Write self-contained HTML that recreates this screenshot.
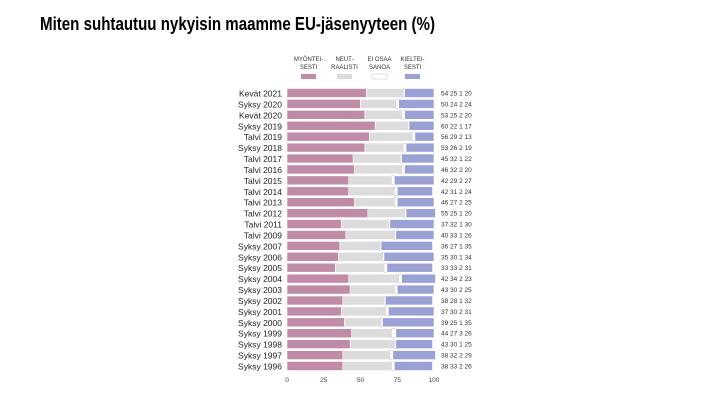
<!DOCTYPE html>
<html><head><meta charset="utf-8"><style>
body{margin:0;background:#fff;}
svg{display:block;font-family:"Liberation Sans",sans-serif;}
</style></head><body>
<svg width="720" height="405" viewBox="0 0 720 405">
<text x="40" y="30" font-size="18" font-weight="bold" textLength="395" lengthAdjust="spacingAndGlyphs" fill="#000">Miten suhtautuu nykyisin maamme EU-jäsenyyteen (%)</text>
<g id="legend"></g>
<g id="bars"></g>
<g id="axis"></g>
</svg>
<script>
const categories=["Kevät 2021","Syksy 2020","Kevät 2020","Syksy 2019","Talvi 2019","Syksy 2018","Talvi 2017","Talvi 2016","Talvi 2015","Talvi 2014","Talvi 2013","Talvi 2012","Talvi 2011","Talvi 2009","Syksy 2007","Syksy 2006","Syksy 2005","Syksy 2004","Syksy 2003","Syksy 2002","Syksy 2001","Syksy 2000","Syksy 1999","Syksy 1998","Syksy 1997","Syksy 1996"];
const myonteisesti=[54,50,53,60,56,53,45,46,42,42,46,55,37,40,36,35,33,42,43,38,37,39,44,43,38,38];
const neutraalisti=[25,24,25,22,29,26,32,32,29,31,27,25,32,33,27,30,33,34,30,28,30,25,27,30,32,33];
const eiOsaa=[1,2,2,1,2,2,1,2,2,2,2,1,1,1,1,1,2,2,2,1,2,1,3,1,2,2];
const kielteisesti=[20,24,20,17,13,19,22,20,27,24,25,20,30,26,35,34,31,23,25,32,31,35,26,25,29,26];
const ticks=[0,25,50,75,100];
const legendLabels=[["MYÖNTEI-","SESTI"],["NEUT-","RAALISTI"],["EI OSAA","SANOA"],["KIELTEI-","SESTI"]];
const colors=["#c08ba6","#dcdcdc","#ffffff","#9aa1d5"];
const NS="http://www.w3.org/2000/svg";
const x0=287,x1=434,yTop=93,pitch=10.92,bh=9;
const xs=v=>x0+(x1-x0)*v/100;
const ys=i=>yTop+i*pitch;
function mk(tag,attrs,parent){const e=document.createElementNS(NS,tag);for(const k in attrs)e.setAttribute(k,attrs[k]);parent.appendChild(e);return e;}
const bars=document.getElementById('bars');
const series=[myonteisesti,neutraalisti,eiOsaa,kielteisesti];
categories.forEach((c,i)=>{
  const yc=ys(i);
  const lab=mk('text',{x:282,y:yc+3.5,'font-size':8.5,'text-anchor':'end',fill:'#222'},bars);
  
  
  lab.textContent=c;
  let acc=0;
  series.forEach((s,k)=>{
    const r=mk('rect',{x:xs(acc),y:yc-bh/2,width:Math.max(0,xs(s[i])-x0),height:bh,fill:colors[k],stroke:k==2?'#ccc':'#fff','stroke-width':0.6},bars);
    
    
    acc+=s[i];
  });
  const v=mk('text',{x:441,y:yc+2.5,'font-size':6.5,fill:'#333'},bars);
  
  
  v.textContent=myonteisesti[i]+" "+neutraalisti[i]+" "+eiOsaa[i]+" "+kielteisesti[i];
});
const axis=document.getElementById('axis');
ticks.forEach(t=>{
  const tx=mk('text',{x:xs(t),y:382,'font-size':6.5,'text-anchor':'middle',fill:'#444'},axis);
  
  
  tx.textContent=t;
});
const leg=document.getElementById('legend');
const legX=[308.5,344.5,379.5,412.5];
legendLabels.forEach((l,k)=>{
  const g=mk('g',{},leg);
  
  
  l.forEach((line,j)=>{const t=mk('text',{x:legX[k],y:61+j*8,'font-size':6,'text-anchor':'middle',fill:'#333'},g);t.textContent=line;});
  mk('rect',{x:legX[k]-7.5,y:74,width:15,height:5,fill:colors[k],stroke:k==2?'#ccc':'none','stroke-width':0.6},g);
});
</script>
</body></html>
